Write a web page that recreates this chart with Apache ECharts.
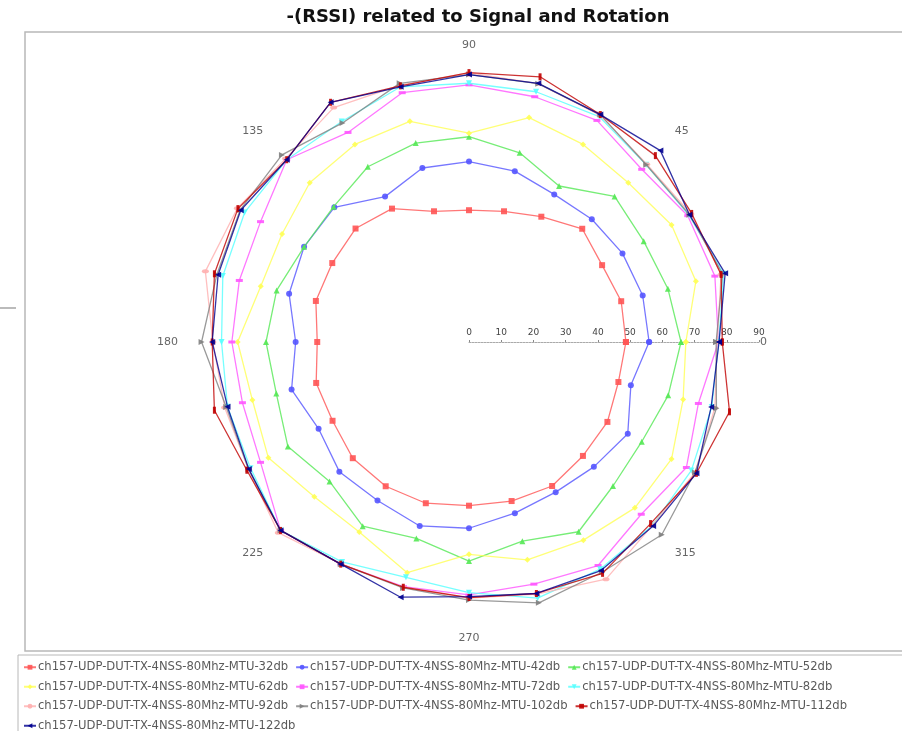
<!DOCTYPE html>
<html>
<head>
<meta charset="utf-8">
<script src="https://cdn.jsdelivr.net/npm/echarts@6/dist/echarts.min.js"></script>
<style>
  html, body { margin: 0; padding: 0; background: #ffffff; }
  #chart { width: 902px; height: 731px; }
</style>
</head>
<body>
<div id="chart"></div>
<script>
// Rotation angles (degrees) at which -(RSSI) was sampled
const angles = [0, 15, 30, 45, 60, 75, 90, 105, 120, 135, 150, 165,
                180, 195, 210, 225, 240, 255, 270, 285, 300, 315, 330, 345];

const seriesNames = [
  'ch157-UDP-DUT-TX-4NSS-80Mhz-MTU-32db',
  'ch157-UDP-DUT-TX-4NSS-80Mhz-MTU-42db',
  'ch157-UDP-DUT-TX-4NSS-80Mhz-MTU-52db',
  'ch157-UDP-DUT-TX-4NSS-80Mhz-MTU-62db',
  'ch157-UDP-DUT-TX-4NSS-80Mhz-MTU-72db',
  'ch157-UDP-DUT-TX-4NSS-80Mhz-MTU-82db',
  'ch157-UDP-DUT-TX-4NSS-80Mhz-MTU-92db',
  'ch157-UDP-DUT-TX-4NSS-80Mhz-MTU-102db',
  'ch157-UDP-DUT-TX-4NSS-80Mhz-MTU-112db',
  'ch157-UDP-DUT-TX-4NSS-80Mhz-MTU-122db'
];

// -(RSSI) per angle, one array per attenuation step
const mtu32  = [48.7, 48.9, 47.7, 49.7, 44.9, 42.0, 40.9, 42.0, 47.8, 49.8, 49.0, 49.2,
                47.1, 49.1, 48.9, 51.0, 51.7, 51.8, 50.8, 51.1, 51.6, 50.0, 49.6, 48.0];
const mtu42  = [55.9, 55.8, 55.0, 53.9, 52.9, 54.9, 56.0, 55.9, 52.1, 59.1, 59.1, 57.8,
                53.8, 57.0, 53.9, 56.9, 56.8, 59.1, 57.8, 55.0, 53.8, 54.8, 56.9, 52.0];
const mtu52  = [65.8, 63.9, 62.6, 63.9, 55.9, 60.8, 63.7, 63.9, 62.8, 59.4, 59.1, 61.8,
                63.0, 61.9, 64.9, 61.2, 66.0, 63.1, 68.0, 64.0, 68.0, 63.2, 61.9, 64.0];
const mtu62  = [67.3, 72.9, 72.6, 69.9, 70.8, 72.1, 64.8, 70.9, 70.8, 69.9, 67.0, 66.9,
                71.8, 69.6, 71.9, 67.9, 68.1, 74.1, 65.9, 70.0, 71.0, 72.8, 72.6, 68.8];
const mtu72  = [77.4, 79.0, 78.4, 75.8, 79.4, 78.8, 79.8, 80.1, 75.1, 80.0, 74.7, 73.8,
                73.6, 72.8, 74.7, 82.7, 79.6, 78.6, 78.5, 77.8, 80.1, 75.6, 77.9, 73.7];
const mtu82  = [77.5, 81.8, 78.8, 77.8, 80.8, 80.4, 80.3, 82.0, 79.0, 80.0, 80.4, 79.1,
                76.8, 77.6, 78.3, 82.7, 78.8, 75.6, 77.8, 82.3, 81.4, 80.5, 79.7, 78.0];
const mtu92  = [77.0, 81.0, 79.5, 78.0, 81.3, 83.0, 83.5, 82.5, 84.0, 80.5, 83.0, 84.7,
                79.5, 78.5, 79.0, 83.7, 79.5, 78.8, 79.5, 81.0, 85.0, 80.5, 81.0, 79.0];
const mtu102 = [76.7, 81.5, 79.0, 77.8, 81.5, 83.0, 83.0, 83.1, 78.5, 82.1, 82.0, 81.0,
                83.0, 78.0, 79.0, 82.7, 79.6, 79.0, 80.1, 83.8, 82.5, 84.6, 81.0, 79.5];
const mtu112 = [78.6, 81.0, 79.8, 81.8, 81.5, 85.2, 83.6, 82.3, 85.9, 80.0, 82.8, 81.8,
                79.7, 81.8, 79.6, 82.7, 79.6, 78.8, 79.3, 80.8, 82.9, 79.7, 81.5, 83.7];
const mtu122 = [77.6, 82.3, 79.0, 84.0, 81.5, 83.1, 83.0, 82.0, 85.9, 80.0, 81.8, 80.6,
                79.7, 77.6, 78.9, 82.7, 79.6, 82.0, 79.0, 80.8, 81.9, 80.8, 81.5, 77.8];

const allValues = [mtu32, mtu42, mtu52, mtu62, mtu72, mtu82, mtu92, mtu102, mtu112, mtu122];

// Radius axis ticks
const radiusTicks = [0, 10, 20, 30, 40, 50, 60, 70, 80, 90];
// Angle axis labels
const angleTicks = [0, 45, 90, 135, 180, 225, 270, 315];

const palette = ['#ff5555', '#5555ff', '#55e855', '#ffff55', '#ff55ff',
                 '#55ffff', '#ffafaf', '#808080', '#c00000', '#000090'];

// Marker shapes, one per series
const markers = [
  { symbol: 'rect', size: 6, rotate: 0 },
  { symbol: 'circle', size: 6, rotate: 0 },
  { symbol: 'triangle', size: 6, rotate: 0 },
  { symbol: 'diamond', size: 6, rotate: 0 },
  { symbol: 'rect', size: [7, 3], rotate: 0 },
  { symbol: 'triangle', size: 6, rotate: 180 },
  { symbol: 'path://M0,3 A4,2.5 0 1,0 8,3 A4,2.5 0 1,0 0,3 Z', size: [7, 4], rotate: 0 },
  { symbol: 'triangle', size: 6, rotate: -90 },
  { symbol: 'rect', size: [3, 7], rotate: 0 },
  { symbol: 'triangle', size: 6, rotate: 90 }
];

const FONT = 'DejaVu Sans';
const cx = 469, cy = 342, R = 290;

const series = seriesNames.map((name, i) => {
  const vals = allValues[i];
  const data = angles.map((a, k) => [vals[k], a]);
  data.push([vals[0], 360]); // close the loop back to 0°
  return {
    name: name,
    type: 'line',
    coordinateSystem: 'polar',
    data: data,
    symbol: markers[i].symbol,
    symbolSize: markers[i].size,
    symbolRotate: markers[i].rotate,
    showSymbol: true,
    animation: false,
    silent: true,
    itemStyle: { color: palette[i], opacity: 0.9 },
    lineStyle: { color: palette[i], width: 1.3, opacity: 0.8 },
    z: 2 + i
  };
});

const chart = echarts.init(document.getElementById('chart'), null, { renderer: 'canvas' });

chart.setOption({
  backgroundColor: '#ffffff',
  animation: false,
  polar: { center: [cx, cy], radius: R },
  angleAxis: {
    type: 'value',
    min: 0,
    max: 360,
    interval: 45,
    startAngle: 0,
    clockwise: false,
    axisLine: { show: false },
    axisTick: { show: false },
    splitLine: { show: false },
    axisLabel: {
      margin: 1,
      color: '#666',
      fontFamily: FONT,
      fontSize: 11,
      formatter: v => angleTicks.indexOf(v) >= 0 ? String(v) : ''
    }
  },
  radiusAxis: {
    type: 'value',
    min: 0,
    max: 90,
    interval: 10,
    axisLine: { show: true, lineStyle: { color: '#aaaaaa', width: 1, type: [2, 1] } },
    axisTick: { show: true, length: 2, lineStyle: { color: '#888' } },
    splitLine: { show: false },
    axisLabel: {
      margin: 5,
      color: '#444',
      fontFamily: FONT,
      fontSize: 9,
      formatter: v => radiusTicks.indexOf(v) >= 0 ? String(v) : ''
    },
    z: 1
  },
  legend: {
    data: seriesNames,
    left: 18,
    right: 0,
    top: 656,
    orient: 'horizontal',
    itemWidth: 12,
    itemHeight: 6,
    itemGap: 7,
    selectedMode: false,
    textStyle: { fontFamily: FONT, fontSize: 11.6, color: '#5a5a5a', padding: [0, 0, 0, -3], lineHeight: 12.5 }
  },
  graphic: [
    {
      type: 'text', x: 478, y: 8,
      style: { text: '-(RSSI) related to Signal and Rotation', font: 'bold 18px "DejaVu Sans"',
               fill: '#111', textAlign: 'center', textVerticalAlign: 'top' }
    },
    { type: 'rect', shape: { x: 25, y: 32, width: 900, height: 619 },
      style: { fill: 'none', stroke: '#b8b8b8', lineWidth: 1.5 }, z: -1 },
    { type: 'rect', shape: { x: 18, y: 655, width: 900, height: 90 },
      style: { fill: 'none', stroke: '#b8b8b8', lineWidth: 1 }, z: -1 },
    { type: 'line', shape: { x1: 0, y1: 308, x2: 16, y2: 308 },
      style: { stroke: '#bbbbbb', lineWidth: 2 } }
  ],
  series: series
});
</script>
</body>
</html>
